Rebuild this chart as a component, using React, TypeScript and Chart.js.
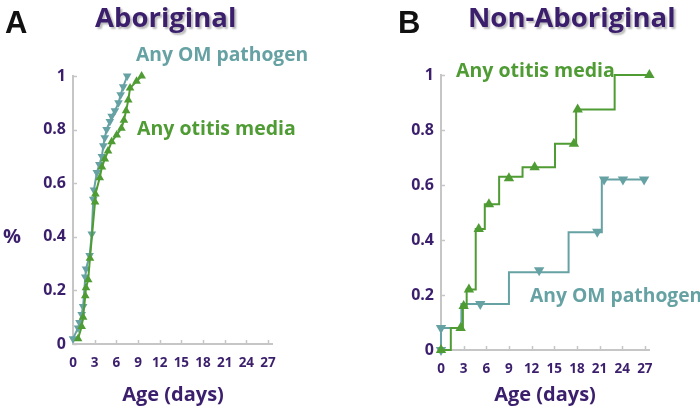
import React, { useEffect, useRef } from "react";
import { Chart, registerables } from "chart.js";

Chart.register(...registerables);

// ---------- data ----------
const xTicks = [0, 3, 6, 9, 12, 15, 18, 21, 24, 27];
const yTicks = [0, 0.2, 0.4, 0.6, 0.8, 1];

// Panel A (Aboriginal)
const aPathDays = [0, 0.7, 0.9, 1.2, 1.4, 1.7, 1.8, 2.3, 2.6, 2.8, 2.9, 3.3, 3.65, 4.0, 4.2, 4.4, 4.65, 5.1, 5.35, 5.8, 6.3, 6.6, 6.95, 7.5];
const aPathVals = [0.02, 0.06, 0.08, 0.11, 0.14, 0.25, 0.28, 0.33, 0.41, 0.54, 0.575, 0.64, 0.67, 0.7, 0.74, 0.77, 0.8, 0.83, 0.85, 0.87, 0.9, 0.93, 0.96, 1.0];
const aOmDays = [0.7, 1.2, 1.4, 1.7, 1.8, 2.1, 2.35, 3.05, 3.1, 3.7, 4.0, 4.4, 4.85, 5.35, 6.05, 6.7, 7.05, 7.35, 7.65, 7.9, 8.8, 9.5];
const aOmVals = [0.02, 0.065, 0.1, 0.18, 0.21, 0.24, 0.32, 0.53, 0.56, 0.62, 0.66, 0.69, 0.72, 0.755, 0.78, 0.805, 0.835, 0.87, 0.91, 0.955, 0.98, 1.0];

// Panel B (Non-Aboriginal)
const bOmStepDays = [0, 1.3, 2.9, 3.4, 4.6, 5.8, 7.7, 10.8, 15.1, 17.9, 23.0, 27.6];
const bOmStepVals = [0, 0.08, 0.16, 0.22, 0.44, 0.53, 0.63, 0.665, 0.75, 0.875, 1.0, 1.0];
const bOmMarkDays = [0, 2.6, 3.0, 3.7, 5.0, 6.35, 9.0, 12.4, 17.6, 18.1, 27.6];
const bOmMarkVals = [0, 0.08, 0.16, 0.22, 0.44, 0.53, 0.625, 0.665, 0.75, 0.875, 1.0];
const bPathStepDays = [0, 0, 2.7, 9.0, 16.9, 21.3, 26.9];
const bPathStepVals = [0, 0.08, 0.167, 0.283, 0.428, 0.62, 0.62];
const bPathMarkDays = [0, 0, 5.2, 13.0, 20.7, 21.6, 24.1, 26.9];
const bPathMarkVals = [0, 0.08, 0.167, 0.29, 0.43, 0.62, 0.62, 0.62];

const seriesNames = ["Any OM pathogen", "Any otitis media"];
const panelTitles = ["Aboriginal", "Non-Aboriginal"];
const panelLetters = ["A", "B"];
const xTitle = "Age (days)";
const yTitle = "%";

// ---------- styles ----------
const PURPLE = "#3b1f6c";
const TEAL = "#66a2a4";
const GREEN = "#4f9b34";
const AXIS = "#c6c6c6";
const FONT = "'Open Sans', 'DejaVu Sans', sans-serif";

const pts = (xs: number[], ys: number[]) => xs.map((x, i) => ({ x, y: ys[i] }));

type Txt = { text: string; x: number; y: number; font: string; color: string; align?: CanvasTextAlign; shadow?: boolean };

const decorPlugin = (texts: Txt[]) => ({
  id: "decor",
  beforeDatasetsDraw(chart: any) {
    const ctx = chart.ctx;
    const xs = chart.scales.x;
    const ys = chart.scales.y;
    ctx.save();
    ctx.strokeStyle = AXIS;
    ctx.lineWidth = 1.5;
    ctx.beginPath();
    for (const t of yTicks) {
      const py = Math.round(ys.getPixelForValue(t)) + 0.5;
      ctx.moveTo(xs.left, py);
      ctx.lineTo(xs.left + 4, py);
    }
    for (const t of xTicks) {
      const px = Math.round(xs.getPixelForValue(t)) + 0.5;
      ctx.moveTo(px, ys.bottom);
      ctx.lineTo(px, ys.bottom - 4);
    }
    ctx.stroke();
    ctx.restore();
  },
  afterDraw(chart: any) {
    const ctx = chart.ctx;
    ctx.save();
    ctx.textBaseline = "alphabetic";
    for (const t of texts) {
      ctx.font = t.font;
      ctx.fillStyle = t.color;
      ctx.textAlign = t.align || "left";
      if (t.shadow) {
        ctx.shadowColor = "rgba(0,0,0,0.28)";
        ctx.shadowOffsetX = 2;
        ctx.shadowOffsetY = 2;
        ctx.shadowBlur = 2;
      } else {
        ctx.shadowColor = "transparent";
        ctx.shadowOffsetX = 0;
        ctx.shadowOffsetY = 0;
        ctx.shadowBlur = 0;
      }
      ctx.fillText(t.text, t.x, t.y);
    }
    ctx.restore();
  },
});

function makeOptions(yWidth: number, padRight: number, padTop: number, xHeight: number): any {
  return {
    responsive: false,
    animation: false,
    events: [],
    layout: { padding: { left: 0, right: padRight, top: padTop, bottom: 0 } },
    plugins: { legend: { display: false }, tooltip: { enabled: false }, title: { display: false } },
    scales: {
      x: {
        type: "linear",
        min: 0,
        max: 27.55,
        afterBuildTicks: (s: any) => { s.ticks = xTicks.map((v) => ({ value: v })); },
        afterFit: (s: any) => { s.height = xHeight; },
        grid: { display: false, drawTicks: false },
        border: { display: true, color: AXIS, width: 2 },
        ticks: {
          color: PURPLE,
          font: { family: FONT, size: 13.5, weight: "bold" },
          padding: 11,
          maxRotation: 0,
          autoSkip: false,
          callback: (v: any) => String(v),
        },
      },
      y: {
        type: "linear",
        min: 0,
        max: 1,
        afterBuildTicks: (s: any) => { s.ticks = yTicks.map((v) => ({ value: v })); },
        afterFit: (s: any) => { s.width = yWidth; },
        grid: { display: false, drawTicks: false },
        border: { display: true, color: AXIS, width: 2 },
        ticks: {
          color: PURPLE,
          font: { family: FONT, size: 16, weight: "bold" },
          padding: 7,
          callback: (v: any) => String(Math.round(v * 10) / 10),
        },
      },
    },
  };
}

function PanelA() {
  const ref = useRef<HTMLCanvasElement>(null);
  useEffect(() => {
    const texts: Txt[] = [
      { text: panelLetters[0], x: 5, y: 33, font: `bold 31px 'Liberation Sans', Arial, sans-serif`, color: "#111" },
      { text: panelTitles[0], x: 95, y: 27, font: `bold 27.5px ${FONT}`, color: PURPLE, shadow: true },
      { text: yTitle, x: 3, y: 243, font: `bold 20px ${FONT}`, color: PURPLE },
      { text: seriesNames[0], x: 136, y: 61, font: `bold 19.3px ${FONT}`, color: TEAL },
      { text: seriesNames[1], x: 137, y: 135, font: `bold 19.5px ${FONT}`, color: GREEN },
      { text: xTitle, x: 173, y: 401, font: `bold 20px ${FONT}`, color: PURPLE, align: "center" },
    ];
    const chart = new Chart(ref.current as HTMLCanvasElement, {
      type: "line",
      data: {
        datasets: [
          {
            data: pts(aOmDays, aOmVals),
            borderColor: GREEN,
            backgroundColor: GREEN,
            borderWidth: 2,
            pointStyle: "triangle",
            pointRadius: 5,
            pointBorderWidth: 0,
            clip: false,
            tension: 0,
          },
          {
            data: pts(aPathDays, aPathVals),
            borderColor: TEAL,
            backgroundColor: TEAL,
            borderWidth: 2,
            pointStyle: "triangle",
            pointRotation: 180,
            pointRadius: 5,
            pointBorderWidth: 0,
            clip: false,
            tension: 0,
          },
        ],
      } as any,
      options: makeOptions(73, 78, 76, 66),
      plugins: [decorPlugin(texts) as any],
    });
    return () => chart.destroy();
  }, []);
  return <canvas ref={ref} width={350} height={410} style={{ position: "absolute", left: 0, top: 0 }} />;
}

function PanelB() {
  const ref = useRef<HTMLCanvasElement>(null);
  useEffect(() => {
    const texts: Txt[] = [
      { text: panelLetters[1], x: 48, y: 33, font: `bold 31px 'Liberation Sans', Arial, sans-serif`, color: "#111" },
      { text: panelTitles[1], x: 118, y: 27, font: `bold 27.5px ${FONT}`, color: PURPLE, shadow: true },
      { text: seriesNames[1], x: 106, y: 77, font: `bold 19.5px ${FONT}`, color: GREEN },
      { text: seriesNames[0], x: 180, y: 302, font: `bold 19.3px ${FONT}`, color: TEAL },
      { text: xTitle, x: 195, y: 401, font: `bold 20px ${FONT}`, color: PURPLE, align: "center" },
    ];
    const chart = new Chart(ref.current as HTMLCanvasElement, {
      type: "line",
      data: {
        datasets: [
          {
            data: pts(bOmStepDays, bOmStepVals),
            borderColor: GREEN,
            borderWidth: 2,
            stepped: "before",
            pointRadius: 0,
            clip: false,
          },
          {
            data: pts(bOmMarkDays, bOmMarkVals),
            showLine: false,
            backgroundColor: GREEN,
            borderColor: GREEN,
            pointStyle: "triangle",
            pointRadius: 6,
            pointBorderWidth: 0,
            clip: false,
          },
          {
            data: pts(bPathStepDays, bPathStepVals),
            borderColor: TEAL,
            borderWidth: 2,
            stepped: "before",
            pointRadius: 0,
            clip: false,
          },
          {
            data: pts(bPathMarkDays, bPathMarkVals),
            showLine: false,
            backgroundColor: TEAL,
            borderColor: TEAL,
            pointStyle: "triangle",
            pointRotation: 180,
            pointRadius: 6,
            pointBorderWidth: 0,
            clip: false,
          },
        ],
      } as any,
      options: makeOptions(91, 51, 75, 60),
      plugins: [decorPlugin(texts) as any],
    });
    return () => chart.destroy();
  }, []);
  return <canvas ref={ref} width={350} height={410} style={{ position: "absolute", left: 350, top: 0 }} />;
}

export default function App() {
  return (
    <div style={{ position: "fixed", left: 0, top: 0, width: 700, height: 410, background: "#fff", overflow: "hidden" }}>
      <PanelA />
      <PanelB />
    </div>
  );
}
